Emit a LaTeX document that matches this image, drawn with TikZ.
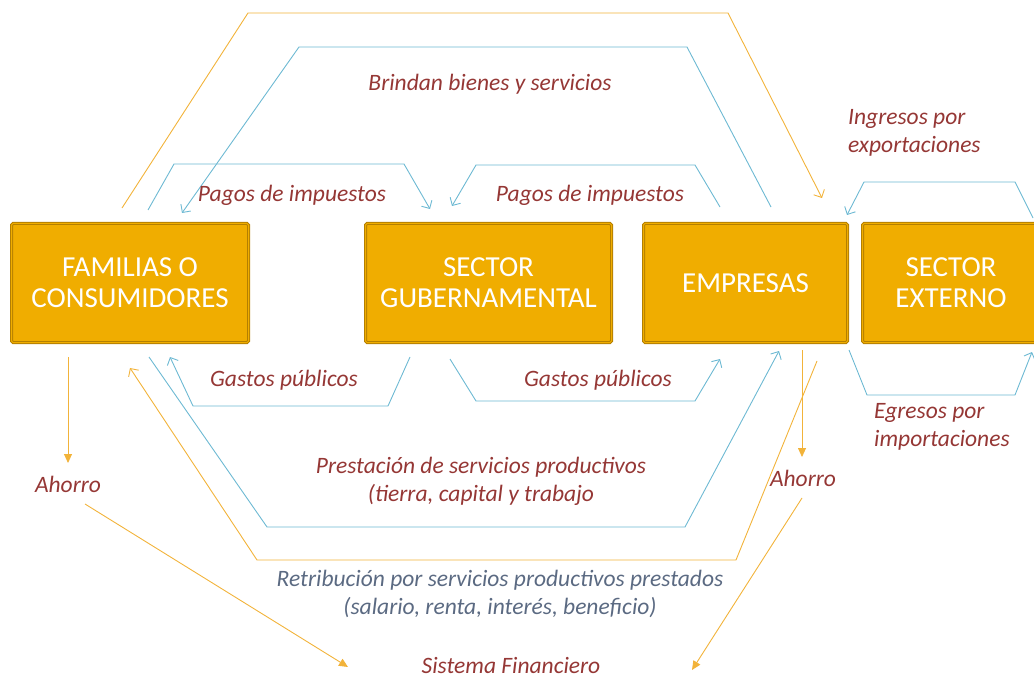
\documentclass[tikz,border=0pt]{standalone}
\usepackage{fontspec}
\setmainfont{Carlito}
\usetikzlibrary{arrows.meta}

\definecolor{boxfill}{HTML}{F0AD00}
\definecolor{boxline}{HTML}{B47F00}
\definecolor{flowblue}{HTML}{6DB9D3}
\definecolor{floworange}{HTML}{F2B33A}
\definecolor{labelred}{HTML}{953735}
\definecolor{labelgray}{HTML}{5B6A82}

\begin{document}
\begin{tikzpicture}[x=1pt,y=-1pt,inner sep=0pt,
  sector/.style={draw=boxline,fill=boxfill,line width=1pt,double=boxfill,
    double distance=1pt,rounded corners=1.5pt,minimum height=119pt,
    text=white,align=center,font=\fontsize{29}{31}\selectfont},
  flowlabel/.style={text=labelred,align=center,font=\itshape\fontsize{23.5}{28}\selectfont},
  blueflow/.style={draw=flowblue,line width=0.9pt},
  orangeflow/.style={draw=floworange,line width=0.9pt},
  barb/.style={-{Straight Barb[length=6pt,width=12pt]}},
  tri/.style={-{Triangle[length=9pt,width=8pt]}}]
\useasboundingbox (0,0) rectangle (1034,679);
% sectores
\node[sector,minimum width=237pt] (fam) at (130,283) {FAMILIAS O\\CONSUMIDORES};
\node[sector,minimum width=246pt] (gob) at (488.5,283) {SECTOR\\GUBERNAMENTAL};
\node[sector,minimum width=204pt] (emp) at (745.5,283) {EMPRESAS};
\node[sector,minimum width=177pt] (ext) at (951,283) {SECTOR\\EXTERNO};
% extremos de los flujos
\coordinate (famTop) at (122,208);
\coordinate (empTop) at (822,198);
\coordinate (empLow) at (817,361);
\coordinate (famLow) at (130,368);
\coordinate (famSave) at (68,357);
\coordinate (famSaveEnd) at (68,463);
\coordinate (empSave) at (802,350);
\coordinate (empSaveEnd) at (802,457);
\coordinate (famBank) at (85,504);
\coordinate (famBankEnd) at (348,667);
\coordinate (empBank) at (802,498);
\coordinate (empBankEnd) at (692,670);
\coordinate (empGoods) at (771,207);
\coordinate (famGoods) at (182,213);
\coordinate (famTax) at (148,210);
\coordinate (gobTaxL) at (430,209);
\coordinate (empTax) at (720,207);
\coordinate (gobTaxR) at (452,206);
\coordinate (extIn) at (1033,218);
\coordinate (empIn) at (847,215);
\coordinate (gobSpendL) at (410,357);
\coordinate (famSpend) at (170,357);
\coordinate (gobSpendR) at (450,359);
\coordinate (empSpend) at (720,359);
\coordinate (famWork) at (149,357);
\coordinate (empWork) at (779,351);
\coordinate (empOut) at (849,350);
\coordinate (extOut) at (1032,352);
% flujos naranjas
\draw[orangeflow,barb] (famTop) -- (248,13) -- (728,13) -- (empTop);
\draw[orangeflow,barb] (empLow) -- (736,560) -- (257,560) -- (famLow);
\draw[orangeflow,tri] (famSave) -- (famSaveEnd);
\draw[orangeflow,tri] (empSave) -- (empSaveEnd);
\draw[orangeflow,tri] (famBank) -- (famBankEnd);
\draw[orangeflow,tri] (empBank) -- (empBankEnd);
% flujos azules
\draw[blueflow,barb] (empGoods) -- (687,47) -- (299,47) -- (famGoods);
\draw[blueflow,barb] (famTax) -- (174,164) -- (404,164) -- (gobTaxL);
\draw[blueflow,barb] (empTax) -- (695,165) -- (476,165) -- (gobTaxR);
\draw[blueflow,barb] (extIn) -- (1015,182) -- (864,182) -- (empIn);
\draw[blueflow,barb] (gobSpendL) -- (388,406) -- (193,406) -- (famSpend);
\draw[blueflow,barb] (gobSpendR) -- (476,401) -- (695,401) -- (empSpend);
\draw[blueflow,barb] (famWork) -- (267,527) -- (685,527) -- (empWork);
\draw[blueflow,barb] (empOut) -- (867,395) -- (1015,395) -- (extOut);
% textos
\node[flowlabel] (brindan) at (490,84) {Brindan bienes y servicios};
\node[flowlabel] (pagosL) at (292,195) {Pagos de impuestos};
\node[flowlabel] (pagosR) at (590,195) {Pagos de impuestos};
\node[flowlabel,align=left,anchor=west] (ingresos) at (848,133) {Ingresos por\\exportaciones};
\node[flowlabel] (gastosL) at (284,380) {Gastos públicos};
\node[flowlabel] (gastosR) at (598,380) {Gastos públicos};
\node[flowlabel,align=left,anchor=west] (egresos) at (874,427) {Egresos por\\importaciones};
\node[flowlabel] (ahorroL) at (68,484) {Ahorro};
\node[flowlabel] (ahorroR) at (803,478) {Ahorro};
\node[flowlabel] (prestacion) at (481,481) {Prestación de servicios productivos\\(tierra, capital y trabajo};
\node[flowlabel,text=labelgray] (retribucion) at (500,594) {Retribución por servicios productivos prestados\\(salario, renta, interés, beneficio)};
\node[flowlabel] (sistema) at (511,665) {Sistema Financiero};
\end{tikzpicture}
\end{document}
